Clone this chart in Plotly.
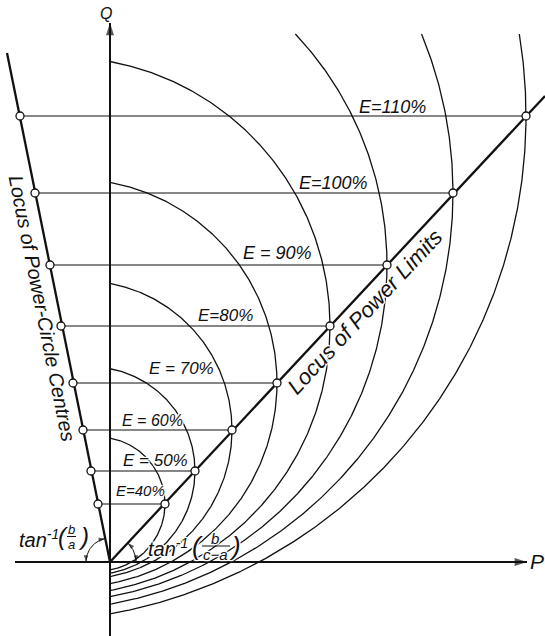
import numpy as np
import plotly.graph_objects as go

# ---------------- data (drawing units, origin O, Q upward) -------------
E_pct    = [40, 50, 60, 70, 80, 90, 100, 110]
centre_P = [-12, -19, -27, -37, -49, -60, -75, -90]      # power-circle centres
centre_Q = [58, 91, 132, 179, 236, 297, 369, 446]
radius   = [67, 104, 149, 204, 269, 337, 418, 506]       # power-circle radii
E_text   = ["E=40%", "E = 50%", "E = 60%", "E = 70%", "E=80%", "E = 90%", "E=100%", "E=110%"]
arc_top_Q = 528                                          # outer arcs cut off here

limit_line_P  = [0, 435]      # locus of power limits
limit_line_Q  = [0, 466]
centre_line_P = [0, -103]     # locus of power-circle centres
centre_line_Q = [0, 509]
P_axis_P = [-95, 417]
Q_axis_Q = [-74, 539]

# ---------------- layout constants ----------------
W, H = 545, 636
XR = [-110, 435]
YR = [-74, 562]
INK = "#111111"
FONT = "Liberation Sans"
HALO = ", ".join(["#fff 0 0 2px"] * 6 + ["#fff 1px 1px 0", "#fff -1px -1px 0",
                                         "#fff 1px -1px 0", "#fff -1px 1px 0"])
label_pos = [(30, 72, 15), (45, 102, 17), (42, 142, 16), (71, 194, 17),
             (115, 247, 17), (167, 309, 18), (223, 379, 18), (282, 455, 18)]

fig = go.Figure()

def line(xs, ys, w, dash="solid"):
    fig.add_trace(go.Scatter(x=xs, y=ys, mode="lines", hoverinfo="skip",
                             line=dict(color=INK, width=w, dash=dash)))

# power circles (arcs to the right of the Q axis)
for cp, cq, r in zip(centre_P, centre_Q, radius):
    h = np.sqrt(r ** 2 - cp ** 2)
    q_top = cq + h
    if q_top <= arc_top_Q:
        t1 = np.arctan2(q_top - cq, -cp)
    else:
        t1 = np.arcsin((arc_top_Q - cq) / r)
    t2 = np.arctan2(-h, -cp)
    th = np.linspace(t1, t2, 400)
    line(cp + r * np.cos(th), cq + r * np.sin(th), 1.3)

# horizontal lines centre -> power limit
for cp, cq, r in zip(centre_P, centre_Q, radius):
    line([cp, cp + r], [cq, cq], 1.1)

# loci
line(limit_line_P, limit_line_Q, 2.3)
line(centre_line_P, centre_line_Q, 2.3)

# axes
line(P_axis_P, [0, 0], 2.0)
line([0, 0], Q_axis_Q, 2.0)

# angle arcs
a_c = np.arctan2(centre_line_Q[1], centre_line_P[1])
a_l = np.arctan2(limit_line_Q[1], limit_line_P[1])
th = np.linspace(a_c, np.pi, 60)
line(24 * np.cos(th), 24 * np.sin(th), 1.0)
th = np.linspace(0, a_l, 60)
line(26 * np.cos(th), 26 * np.sin(th), 1.0)

# small open circles
mk_P = list(centre_P) + [cp + r for cp, r in zip(centre_P, radius)]
mk_Q = list(centre_Q) + list(centre_Q)
fig.add_trace(go.Scatter(x=mk_P, y=mk_Q, mode="markers", hoverinfo="skip",
                         marker=dict(symbol="circle", size=8, color="white",
                                     line=dict(color=INK, width=1.3))))

# arrowheads (marker symbol "arrow", angle clockwise from up)
deg = np.degrees
ah_P = [P_axis_P[1], 0, -24, 24 * np.cos(a_c), 26, 26 * np.cos(a_l)]
ah_Q = [0, Q_axis_Q[1], 0, 24 * np.sin(a_c), 0, 26 * np.sin(a_l)]
ah_ang = [90, 0, 180, deg(np.arctan2(np.sin(a_c), -np.cos(a_c))), 180,
          deg(np.arctan2(-np.sin(a_l), np.cos(a_l)))]
ah_size = [13, 13, 7, 7, 7, 7]
fig.add_trace(go.Scatter(x=ah_P, y=ah_Q, mode="markers", hoverinfo="skip",
                         marker=dict(symbol="arrow", angle=ah_ang, size=ah_size,
                                     color=INK, line=dict(width=0))))

ann = []

def txt(x, y, s, size, angle=0, xanchor="center", halo=True):
    ann.append(dict(x=x, y=y, xref="x", yref="y", text=s, showarrow=False,
                    textangle=angle, xanchor=xanchor, yanchor="middle",
                    borderpad=0,
                    font=dict(family=FONT, size=size, color=INK, style="italic",
                              shadow=HALO if halo else "none")))

for (lx, ly, fs), s in zip(label_pos, E_text):
    txt(lx, ly, s, fs)

txt(254, 250, "Locus of Power Limits", 22, angle=-47)
txt(-68, 254, "Locus of Power-Circle Centres", 20, angle=78.6)
txt(-4, 549, "Q", 16, halo=False)
txt(427, 1, "P", 21, halo=False)

# tan^-1(b/a)
txt(-92, 24, "tan<sup>-1</sup>", 20, xanchor="left")
txt(-47, 26, "(", 24)
txt(-38.5, 33, "b", 13)
txt(-38.5, 18, "a", 13)
txt(-27, 26, ")", 24)
# tan^-1(b/(c-a))
txt(37, 15, "tan<sup>-1</sup>", 20, xanchor="left")
txt(87, 16, "(", 26)
txt(105, 24, "b", 15)
txt(105, 8, "c\u2212a", 15)
txt(125, 16, ")", 26)

# fraction bars
line([-43, -34], [25.5, 25.5], 1.0)
line([92, 120], [16, 16], 1.0)

fig.update_layout(
    width=W, height=H, margin=dict(l=0, r=0, t=0, b=0),
    paper_bgcolor="white", plot_bgcolor="white", showlegend=False,
    xaxis=dict(range=XR, visible=False, showgrid=False, zeroline=False),
    yaxis=dict(range=YR, visible=False, showgrid=False, zeroline=False),
    annotations=ann,
)

fig.write_html("out.html",
               config={"displayModeBar": False, "staticPlot": True},
               post_script="document.body.style.margin='0';"
                           "document.body.style.overflow='hidden';")
